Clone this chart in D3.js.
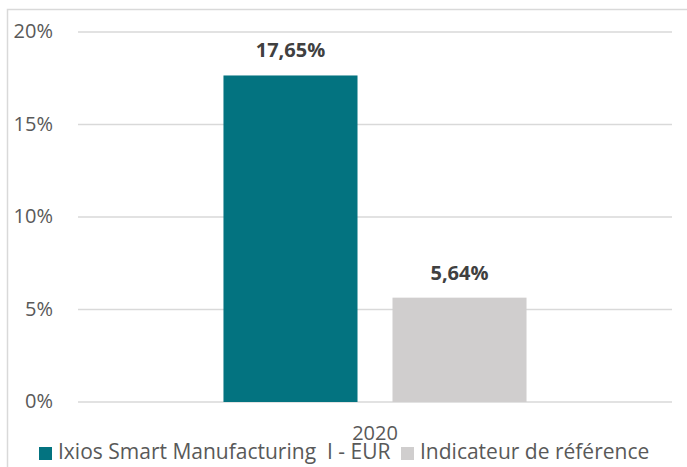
<!DOCTYPE html>
<html>
<head>
<meta charset="utf-8">
<script src="https://cdn.jsdelivr.net/npm/d3@7"></script>
<style>
  body { margin: 0; background: #fff; }
  text { font-family: "Open Sans", Lato, sans-serif; }
</style>
</head>
<body>
<div id="chart"></div>
<script>
// data
var categories = ["2020"];
var seriesNames = ["Ixios Smart Manufacturing  I - EUR", "Indicateur de référence"];
var fundValues = [17.65];
var benchValues = [5.64];
var yTicks = [0, 5, 10, 15, 20];
var colors = ["#037380", "#d0cece"];

var svgWidth = 687;
var svgHeight = 467;
var margin = { top: 32, right: 15, bottom: 65, left: 78 };
var width = svgWidth - margin.left - margin.right;
var height = svgHeight - margin.top - margin.bottom;

var svg = d3.select("#chart")
  .append("svg")
  .attr("width", svgWidth)
  .attr("height", svgHeight);

// outer frame
svg.append("rect")
  .attr("x", 7.5).attr("y", 9.5)
  .attr("width", 700).attr("height", 480)
  .attr("fill", "none")
  .attr("stroke", "#d9d9d9")
  .attr("stroke-width", 1.5);

var chartGroup = svg.append("g")
  .attr("transform", `translate(${margin.left}, ${margin.top})`);

var x0 = d3.scaleBand()
  .domain(categories)
  .range([0, width])
  .paddingInner(0)
  .paddingOuter(0.48);

var x1 = d3.scaleBand()
  .domain([0, 1])
  .range([0, x0.bandwidth()])
  .paddingInner(0.207);

var y = d3.scaleLinear()
  .domain([0, 20])
  .range([height, 0]);

// gridlines
chartGroup.selectAll(".grid")
  .data(yTicks)
  .enter().append("line")
  .attr("x1", 0).attr("x2", width)
  .attr("y1", d => y(d)).attr("y2", d => y(d))
  .attr("stroke", "#d9d9d9")
  .attr("stroke-width", 1.5);

// y labels
chartGroup.selectAll(".ylab")
  .data(yTicks)
  .enter().append("text")
  .attr("x", -25)
  .attr("y", d => y(d) + 6)
  .attr("text-anchor", "end")
  .attr("fill", "#595959")
  .attr("font-size", 20)
  .text(d => d + "%");

var rows = categories.map(function(c, i) {
  return { cat: c, values: [fundValues[i], benchValues[i]] };
});

var groups = chartGroup.selectAll(".cat")
  .data(rows)
  .enter().append("g")
  .attr("transform", d => `translate(${x0(d.cat)},0)`);

groups.selectAll("rect")
  .data(d => d.values)
  .enter().append("rect")
  .attr("x", (d, i) => x1(i))
  .attr("width", x1.bandwidth())
  .attr("y", d => y(d))
  .attr("height", d => height - y(d))
  .attr("fill", (d, i) => colors[i]);

groups.selectAll(".lab")
  .data(d => d.values)
  .enter().append("text")
  .attr("x", (d, i) => x1(i) + x1.bandwidth() / 2)
  .attr("y", d => y(d) - 18)
  .attr("text-anchor", "middle")
  .attr("font-size", 20)
  .attr("font-weight", "bold")
  .attr("fill", "#404040")
  .text(d => d.toFixed(2).replace(".", ",") + "%");

// category label
chartGroup.selectAll(".xlab")
  .data(categories)
  .enter().append("text")
  .attr("x", d => x0(d) + x0.bandwidth() / 2)
  .attr("y", height + 38)
  .attr("text-anchor", "middle")
  .attr("fill", "#595959")
  .attr("font-size", 20)
  .text(d => d);

// legend
var legendX = [39, 401];
var legend = svg.selectAll(".legend")
  .data(seriesNames)
  .enter().append("g")
  .attr("transform", (d, i) => `translate(${legendX[i]}, 447)`);

legend.append("rect")
  .attr("width", 13).attr("height", 13)
  .attr("fill", (d, i) => colors[i]);

legend.append("text")
  .attr("x", 19)
  .attr("y", 12)
  .attr("fill", "#595959")
  .attr("font-size", 21)
  .style("white-space", "pre")
  .text(d => d);
</script>
</body>
</html>
